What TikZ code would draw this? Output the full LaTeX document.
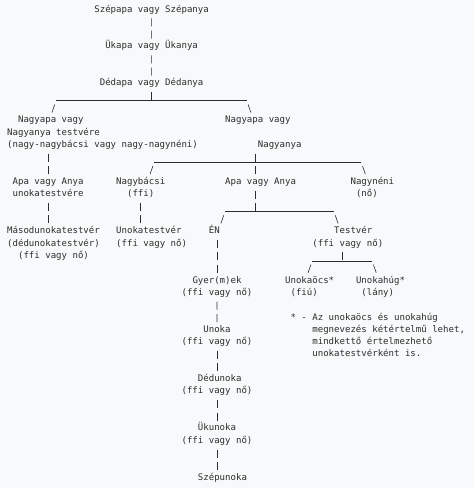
\documentclass[tikz,border=0pt]{standalone}
\usepackage{fontspec}
\setmonofont{DejaVu Sans Mono}
\usetikzlibrary{calc}
\definecolor{PageGray}{RGB}{248,249,250}
\definecolor{InkGray}{RGB}{45,45,45}
\tikzset{
  entry/.style={anchor=west,inner sep=0pt,text=InkGray,
    font=\ttfamily\fontsize{9.05}{12.32}\selectfont,text height=7.5pt,text depth=1.5pt},
  stem/.style={draw=InkGray,line width=0.6pt,dash pattern=on 8pt off 4.32pt,
    shorten <=9.32pt,shorten >=7.32pt},
  drop/.style={stem,shorten >=0pt},
  bar/.style={draw=InkGray,line width=0.6pt},
  twig/.style={draw=InkGray,line width=0.6pt,shorten <=3.9pt}
}

\begin{document}
\begin{tikzpicture}[x=5.45pt,y=-12.32pt]
  \path[use as bounding box,fill=PageGray] (-1.2844,-0.7305) rectangle (85.688,38.880);
  % ancestors
  \node[entry] (szepapa) at (16,0) {Szépapa vagy Szépanya};
  \node[entry] (ukapa) at (18,3) {Ükapa vagy Ükanya};
  \node[entry] (dedapa) at (17,6) {Dédapa vagy Dédanya};
  \draw[stem] (szepapa.center) -- (ukapa.center);
  \draw[stem] (ukapa.center) -- (dedapa.center);
  \coordinate (dedBarL) at ([yshift=-5.5pt]9,7);
  \coordinate (dedBarR) at ([yshift=-5.5pt]44,7);
  \draw[bar] (dedBarL) -- (dedBarR);
  \draw[drop] (dedapa.center) -- (dedapa |- dedBarL);
  % grandparents
  \node[entry] (nagyL1) at (2,9) {Nagyapa vagy};
  \node[entry] (nagyL2) at (0,10) {Nagyanya testvére};
  \node[entry] (nagyL3) at (0,11) {(nagy-nagybácsi vagy nagy-nagynéni)};
  \node[entry] (nagyR1) at (40,9) {Nagyapa vagy};
  \node[entry] (nagyR2) at (46,11) {Nagyanya};
  \coordinate (nagyLtw) at ([yshift=-5pt]8.25,8);
  \coordinate (nagyRtw) at ([yshift=-5pt]44.75,8);
  \draw[twig] (dedBarL) -- (nagyLtw);
  \draw[twig] (dedBarR) -- (nagyRtw);
  % parents' generation
  \node[entry] (apaL1) at (1,14) {Apa vagy Anya};
  \node[entry] (apaL2) at (1,15) {unokatestvére};
  \node[entry] (nbacsi1) at (20,14) {Nagybácsi};
  \node[entry] (nbacsi2) at (22,15) {(ffi)};
  \node[entry] (apaM) at (40,14) {Apa vagy Anya};
  \node[entry] (nneni1) at (63,14) {Nagynéni};
  \node[entry] (nneni2) at (64,15) {(nő)};
  \draw[stem] (apaL1 |- nagyL3) -- (apaL1.center);
  \coordinate (nnBarL) at ([yshift=-5.5pt]27,12);
  \coordinate (nnBarR) at ([yshift=-5.5pt]65,12);
  \coordinate (nnJoin) at ([yshift=-5.5pt]45.5,12);
  \draw[bar] (nnBarL) -- (nnBarR);
  \draw[drop] (nnJoin |- nagyR2) -- (nnJoin);
  \draw[stem,shorten <=3.82pt] (nnJoin) -- (nnJoin |- apaM);
  \coordinate (nbTw) at ([yshift=-5pt]26.25,13);
  \coordinate (nnTw) at ([yshift=-5pt]65.75,13);
  \draw[twig] (nnBarL) -- (nbTw);
  \draw[twig] (nnBarR) -- (nnTw);
  % cousins, me, siblings
  \node[entry] (maso1) at (0,18) {Másodunokatestvér};
  \node[entry] (maso2) at (0,19) {(dédunokatestvér)};
  \node[entry] (maso3) at (2,20) {(ffi vagy nő)};
  \node[entry] (ut1) at (20,18) {Unokatestvér};
  \node[entry] (ut2) at (20,19) {(ffi vagy nő)};
  \node[entry] (en) at (37,18) {ÉN};
  \node[entry] (tv1) at (60,18) {Testvér};
  \node[entry] (tv2) at (56,19) {(ffi vagy nő)};
  \draw[stem] (apaL2.center) -- (apaL2 |- maso1);
  \draw[stem] (nbacsi2.center) -- (nbacsi2 |- ut1);
  \coordinate (apaBarL) at ([yshift=-5.5pt]40,16);
  \coordinate (apaBarR) at ([yshift=-5.5pt]60,16);
  \coordinate (apaJoin) at ([yshift=-5.5pt]45.5,16);
  \draw[bar] (apaBarL) -- (apaBarR);
  \draw[drop] (apaJoin |- apaM) -- (apaJoin);
  \coordinate (enTw) at ([yshift=-5pt]39.25,17);
  \coordinate (tvTw) at ([yshift=-5pt]60.75,17);
  \draw[twig] (apaBarL) -- (enTw);
  \draw[twig] (apaBarR) -- (tvTw);
  % children of sibling
  \node[entry] (ocs1) at (51,22) {Unokaöcs*};
  \node[entry] (ocs2) at (52,23) {(fiú)};
  \node[entry] (hug1) at (64,22) {Unokahúg*};
  \node[entry] (hug2) at (65,23) {(lány)};
  \coordinate (tvBarL) at ([yshift=-5.5pt]56,20);
  \coordinate (tvBarR) at ([yshift=-5.5pt]67,20);
  \coordinate (tvJoin) at ([yshift=-5.5pt]61.5,20);
  \draw[bar] (tvBarL) -- (tvBarR);
  \draw[drop] (tvJoin |- tv2) -- (tvJoin);
  \coordinate (ocsTw) at ([yshift=-5pt]55.25,21);
  \coordinate (hugTw) at ([yshift=-5pt]67.75,21);
  \draw[twig] (tvBarL) -- (ocsTw);
  \draw[twig] (tvBarR) -- (hugTw);
  \node[entry] (note1) at (52,25) {* - Az unokaöcs és unokahúg};
  \node[entry] (note2) at (56,26) {megnevezés kétértelmű lehet,};
  \node[entry] (note3) at (56,27) {mindkettő értelmezhető};
  \node[entry] (note4) at (56,28) {unokatestvérként is.};
  % descendants
  \coordinate (enAxis) at (38.5,18);
  \node[entry] (gyer1) at (34,22) {Gyer(m)ek};
  \node[entry] (gyer2) at (32,23) {(ffi vagy nő)};
  \node[entry] (unoka1) at (36,26) {Unoka};
  \node[entry] (unoka2) at (32,27) {(ffi vagy nő)};
  \node[entry] (dedu1) at (35,30) {Dédunoka};
  \node[entry] (dedu2) at (32,31) {(ffi vagy nő)};
  \node[entry] (uku1) at (35,34) {Ükunoka};
  \node[entry] (uku2) at (32,35) {(ffi vagy nő)};
  \node[entry] (szepu) at (35,38) {Szépunoka};
  \draw[stem] (enAxis |- en) -- (enAxis |- gyer1);
  \draw[stem] (gyer2.center) -- (unoka1.center);
  \draw[stem] (unoka2.center) -- (unoka2 |- dedu1);
  \draw[stem] (dedu2.center) -- (dedu2 |- uku1);
  \draw[stem] (uku2.center) -- (uku2 |- szepu);
\end{tikzpicture}
\end{document}
